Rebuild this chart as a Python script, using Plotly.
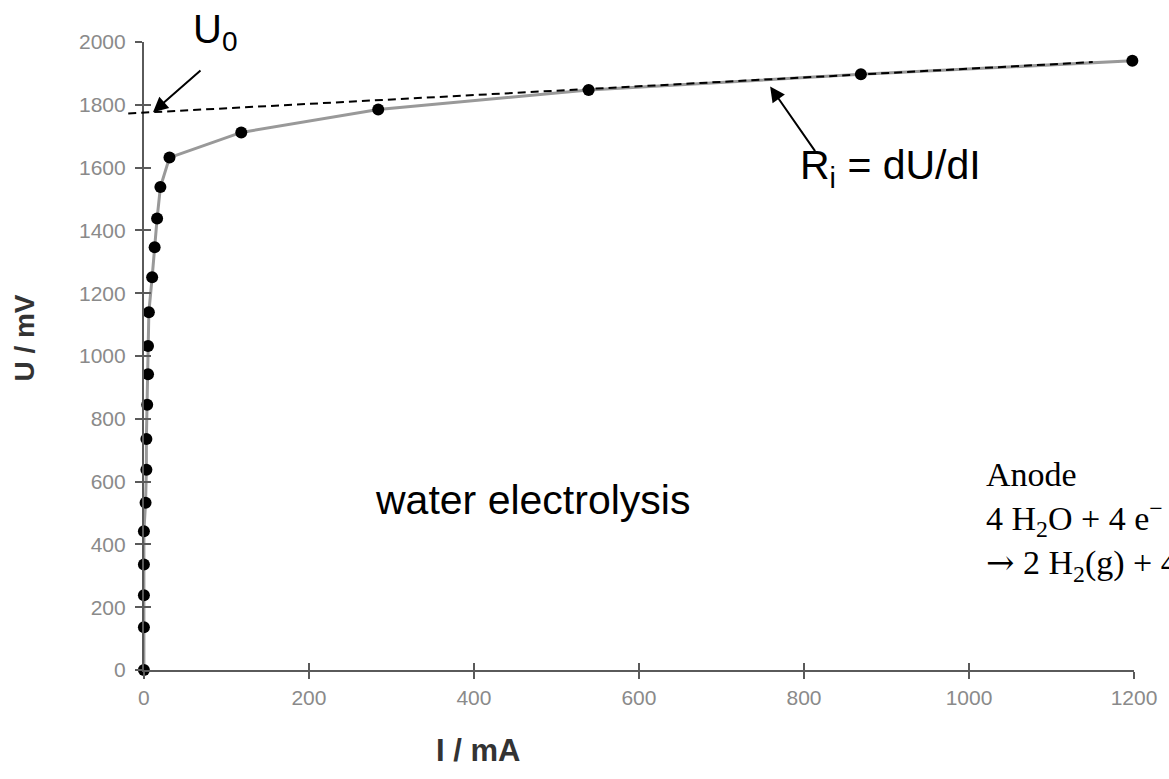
import plotly.graph_objects as go

# Measured current/voltage pairs of the electrolysis cell
current_mA = [0, 0, 0, 0, 0, 2, 3, 3, 4, 5, 5, 6, 10, 13, 16, 20, 31, 118, 284, 539, 869, 1198]
voltage_mV = [0, 136, 238, 336, 442, 533, 638, 736, 845, 942, 1032, 1139, 1251, 1346, 1438,
              1538, 1632, 1712, 1785, 1847, 1897, 1940]

# Linear fit of the high-current branch: U = U0 + Ri * I
U0_mV = 1775
Ri_mV_per_mA = 0.14
fit_I = [-19, 1150]
fit_U = [U0_mV + Ri_mV_per_mA * i for i in fit_I]

x_ticks = [0, 200, 400, 600, 800, 1000, 1200]
y_ticks = [0, 200, 400, 600, 800, 1000, 1200, 1400, 1600, 1800, 2000]

W, H = 1169, 779
ML, MR, MT, MB = 128, 29, 42, 109
plot_w = W - ML - MR
plot_h = H - MT - MB
lead_px = 16                      # room left of the U axis for the fit line
d0 = lead_px / plot_w
px_per_mA = (plot_w - lead_px) / 1200.0

axis_col = "#5a5a5a"
tick_font = dict(family="Liberation Sans, Arial, sans-serif", size=21, color="#8a8a8a")

fig = go.Figure()

fig.add_trace(go.Scatter(
    x=fit_I, y=fit_U, mode="lines",
    line=dict(color="black", width=2, dash="8px,5px"),
    showlegend=False, xaxis="x3", yaxis="y",
))

fig.add_trace(go.Scatter(
    x=current_mA, y=voltage_mV, mode="lines+markers",
    line=dict(color="#999999", width=3),
    marker=dict(color="black", size=12),
    cliponaxis=False, showlegend=False, xaxis="x", yaxis="y",
))

common = dict(showgrid=False, zeroline=False)
fig.update_layout(
    width=W, height=H,
    margin=dict(l=ML, r=MR, t=MT, b=MB),
    paper_bgcolor="white", plot_bgcolor="rgba(0,0,0,0)",
    xaxis=dict(domain=[d0, 1], range=[0, 1200], tickvals=x_ticks, ticks="outside",
               ticklen=7, tickwidth=2, tickcolor=axis_col, showline=True,
               linecolor=axis_col, linewidth=2, tickfont=tick_font, anchor="y",
               ticklabelstandoff=1, **common),
    xaxis2=dict(domain=[d0, 1], range=[0, 1200], tickvals=x_ticks, ticks="inside",
                ticklen=7, tickwidth=2, tickcolor=axis_col, showticklabels=False,
                overlaying="x", anchor="y", **common),
    xaxis3=dict(domain=[0, 1], range=[-lead_px / px_per_mA, 1200], visible=False,
                anchor="y", **common),
    yaxis=dict(range=[0, 2000], tickvals=y_ticks, ticks="outside", ticklen=7, tickwidth=2,
               tickcolor=axis_col, showline=True, linecolor=axis_col, linewidth=2,
               tickfont=tick_font, anchor="x", ticklabelstandoff=5, **common),
    yaxis2=dict(range=[0, 2000], tickvals=y_ticks, ticks="inside", ticklen=7, tickwidth=2,
                tickcolor=axis_col, showticklabels=False, overlaying="y", anchor="x", **common),
)

# Invisible helper traces so the overlay axes get drawn
fig.add_trace(go.Scatter(x=[None], y=[None], xaxis="x2", yaxis="y", showlegend=False))
fig.add_trace(go.Scatter(x=[None], y=[None], xaxis="x", yaxis="y2", showlegend=False))

sans = "Liberation Sans, Arial, sans-serif"
serif = "Liberation Serif, Times New Roman, serif"

reaction = ("Anode<br>4 H<sub>2</sub>O + 4 e<sup>−</sup><br>"
            "<span style='font-family:DejaVu Serif'>→</span> 2 H<sub>2</sub>(g) + 4 OH<sup>−</sup>")

annotations = [
    # axis titles
    dict(text="<b>I / mA</b>", x=480, y=750, font=dict(family=sans, size=31, color="#333")),
    dict(text="<b>U / mV</b>", x=23, y=338, textangle=-90, font=dict(family=sans, size=28, color="#333")),
    # labels
    dict(text="U<sub>0</sub>", x=216, y=32, font=dict(family=sans, size=40, color="black")),
    dict(text="R<sub>i</sub> = dU/dI", x=895, y=168, font=dict(family=sans, size=41, color="black")),
    dict(text="water electrolysis", x=535, y=500, font=dict(family=sans, size=41, color="black")),
    dict(text=reaction, x=989, y=521, xanchor="left", align="left",
         font=dict(family=serif, size=34, color="black")),
]
for a in annotations:
    px, py = a.pop("x"), a.pop("y")
    a.setdefault("xanchor", "center")
    fig.add_annotation(x=(px - ML) / plot_w, y=(H - MB - py) / plot_h,
                       xref="paper", yref="paper", showarrow=False, yanchor="middle", **a)

# arrows pointing at the fit line
fig.add_annotation(x=11, y=U0_mV + Ri_mV_per_mA * 11, xref="x", yref="y", text="",
                   showarrow=True, ax=49, ay=-43, arrowhead=2, arrowsize=1.5,
                   arrowwidth=2, arrowcolor="black")
fig.add_annotation(x=759, y=1858, xref="x", yref="y", text="",
                   showarrow=True, ax=46, ay=66, arrowhead=2, arrowsize=1.5,
                   arrowwidth=2, arrowcolor="black")

fig.write_html("out.html")
